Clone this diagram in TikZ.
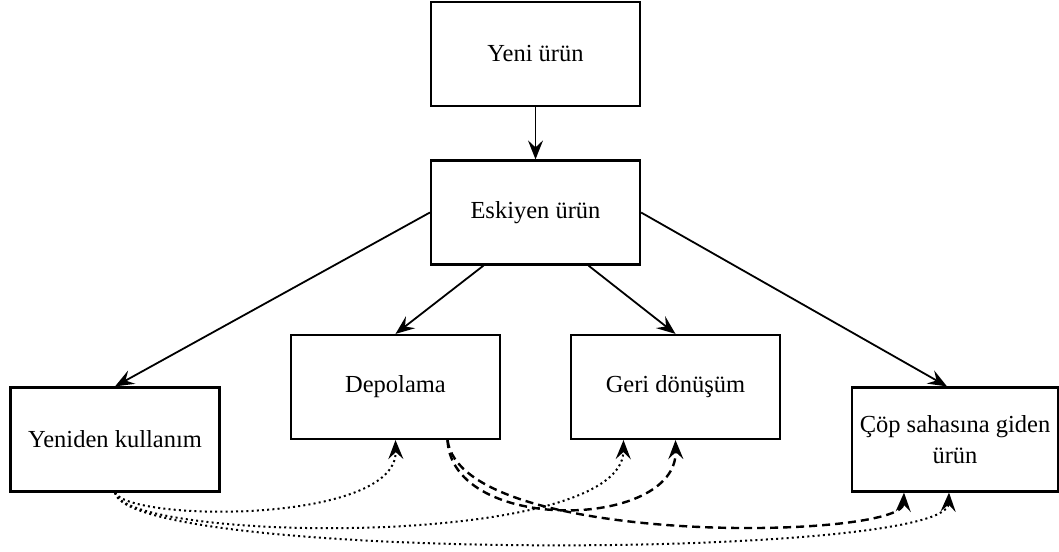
\documentclass[tikz,border=0pt]{standalone}
\usepackage{fontspec}
\setmainfont{Liberation Serif}
\usetikzlibrary{arrows.meta}
\begin{document}
\begin{tikzpicture}[x=1pt,y=-1pt,
  box/.style={draw, line width=2.2pt, minimum width=209pt, minimum height=104pt, inner sep=0pt, align=center, font=\fontsize{24.5}{31}\selectfont},
  arr/.style={line width=1.8pt, -{Stealth[length=19pt,width=15pt,inset=7pt]}},
  dotarr/.style={arr, line width=2pt, dash pattern=on 2pt off 3.2pt},
  dasharr/.style={arr, line width=2.4pt, dash pattern=on 8pt off 5pt}]
\useasboundingbox (0,0) rectangle (1059,551);
\node[box] (yeni) at (535.5,54) {Yeni ürün};
\node[box] (esk) at (535.5,212.5) {Eskiyen ürün};
\node[box] (dep) at (395.5,387) {Depolama};
\node[box] (geri) at (675.5,387) {Geri dönüşüm};
\node[box] (yk) at (115,439.5) {Yeniden kullanım};
\node[box, minimum width=206pt] (cop) at (955,439.5) {Çöp sahasına giden\\ürün};

\draw[arr] (yeni.south) -- (esk.north);
\draw[arr] (esk.west) -- (yk.north);
\draw[arr] ([xshift=-52pt]esk.south) -- (dep.north);
\draw[arr] ([xshift=53pt]esk.south) -- (geri.north);
\draw[arr] (esk.east) -- ([xshift=-8pt]cop.north);

% dotted from Yeniden kullanim
\draw[dotarr] (yk.south) .. controls (130,522) and (397,524) .. (dep.south);
\draw[dotarr] (yk.south) .. controls (125,542) and (622,550) .. ([xshift=-52pt]geri.south);
\draw[dotarr] (yk.south) .. controls (130,562) and (946,560) .. ([xshift=-6pt]cop.south);
% dashed from Depolama
\draw[dasharr] ([xshift=52pt]dep.south) .. controls (452,534) and (677,530) .. (geri.south);
\draw[dasharr] ([xshift=52pt]dep.south) .. controls (462,548) and (902,540) .. ([xshift=-51pt]cop.south);
\end{tikzpicture}
\end{document}
